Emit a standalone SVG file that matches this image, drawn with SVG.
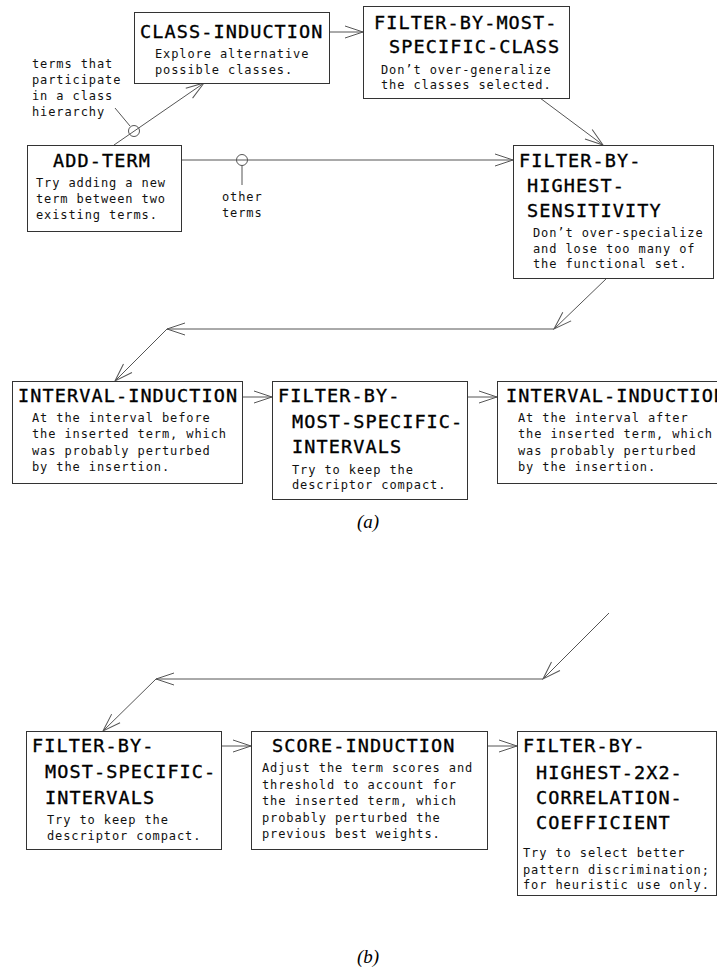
<svg xmlns="http://www.w3.org/2000/svg" width="717" height="972" viewBox="0 0 717 972">
<style>
.box { fill: #fff; stroke: #333; stroke-width: 1; }
.t { font-family: "DejaVu Sans Mono", monospace; font-size: 18.5px; letter-spacing: 1.1px; fill: #000; stroke: #000; stroke-width: 0.35; }
.d { font-family: "DejaVu Sans Mono", monospace; font-size: 12px; letter-spacing: 0.9px; fill: #111; }
.cap { font-family: "Liberation Serif", serif; font-style: italic; font-size: 19px; text-anchor: middle; fill: #000; }
.c { stroke: #555; stroke-width: 1; fill: none; }
.cm { marker-end: url(#arr); }
</style>
<defs>
<marker id="arr" markerUnits="userSpaceOnUse" markerWidth="1" markerHeight="1" refX="0" refY="0" orient="auto" overflow="visible">
<path d="M-18,-6 L0,0 L-18,6" fill="none" stroke="#555" stroke-width="1"/>
</marker>
</defs>
<rect width="717" height="972" fill="#fff"/>

<g id="connectors">
<line class="c cm" x1="114" y1="145" x2="204" y2="83"/>
<circle class="c" cx="134" cy="131" r="5.5" fill="#fff"/>
<line class="c" x1="115" y1="108" x2="130" y2="126"/>
<line class="c cm" x1="329" y1="32" x2="363" y2="32"/>
<line class="c cm" x1="540" y1="98" x2="603" y2="145"/>
<line class="c cm" x1="181" y1="160" x2="513" y2="160"/>
<circle class="c" cx="242" cy="160" r="5.5" fill="#fff"/>
<line class="c" x1="242" y1="165.5" x2="242" y2="185"/>
<line class="c cm" x1="607" y1="278" x2="554" y2="329"/>
<line class="c cm" x1="554" y1="329" x2="167" y2="329"/>
<line class="c cm" x1="167" y1="329" x2="115" y2="381"/>
<line class="c cm" x1="242" y1="397" x2="272" y2="397"/>
<line class="c cm" x1="467" y1="397" x2="497" y2="397"/>
<line class="c cm" x1="609" y1="613" x2="543" y2="679"/>
<line class="c cm" x1="543" y1="679" x2="156" y2="679"/>
<line class="c cm" x1="156" y1="679" x2="103" y2="731"/>
<line class="c cm" x1="221" y1="746" x2="251" y2="746"/>
<line class="c cm" x1="487" y1="746" x2="517" y2="746"/>
</g>

<g id="label-class-hierarchy">
<text class="d" x="32" y="68">terms that</text>
<text class="d" x="32" y="84">participate</text>
<text class="d" x="32" y="100">in a class</text>
<text class="d" x="32" y="116">hierarchy</text>
</g>
<g id="label-other-terms">
<text class="d" x="222" y="201">other</text>
<text class="d" x="222" y="217">terms</text>
</g>

<g id="class-induction">
<rect class="box" x="134.5" y="12.5" width="195" height="71"/>
<text class="t" x="140" y="38">CLASS-INDUCTION</text>
<text class="d" x="155" y="58">Explore alternative</text>
<text class="d" x="155" y="74">possible classes.</text>
</g>

<g id="filter-most-specific-class">
<rect class="box" x="363.5" y="6.5" width="206" height="92"/>
<text class="t" x="374" y="29">FILTER-BY-MOST-</text>
<text class="t" x="389" y="53">SPECIFIC-CLASS</text>
<text class="d" x="381" y="74">Don’t over-generalize</text>
<text class="d" x="381" y="89">the classes selected.</text>
</g>

<g id="add-term">
<rect class="box" x="27.5" y="145.5" width="154" height="86"/>
<text class="t" x="53" y="167">ADD-TERM</text>
<text class="d" x="36" y="187">Try adding a new</text>
<text class="d" x="36" y="203">term between two</text>
<text class="d" x="36" y="219">existing terms.</text>
</g>

<g id="filter-highest-sensitivity">
<rect class="box" x="513.5" y="145.5" width="200" height="133"/>
<text class="t" x="519" y="167">FILTER-BY-</text>
<text class="t" x="527" y="192">HIGHEST-</text>
<text class="t" x="527" y="217">SENSITIVITY</text>
<text class="d" x="533" y="237">Don’t over-specialize</text>
<text class="d" x="533" y="253">and lose too many of</text>
<text class="d" x="533" y="268">the functional set.</text>
</g>

<g id="interval-induction-before">
<rect class="box" x="12.5" y="381.5" width="230" height="102"/>
<text class="t" x="18" y="402">INTERVAL-INDUCTION</text>
<text class="d" x="32" y="422">At the interval before</text>
<text class="d" x="32" y="438">the inserted term, which</text>
<text class="d" x="32" y="455">was probably perturbed</text>
<text class="d" x="32" y="471">by the insertion.</text>
</g>

<g id="filter-most-specific-intervals-a">
<rect class="box" x="272.5" y="381.5" width="195" height="118"/>
<text class="t" x="278" y="402">FILTER-BY-</text>
<text class="t" x="292" y="428">MOST-SPECIFIC-</text>
<text class="t" x="292" y="453">INTERVALS</text>
<text class="d" x="292" y="474">Try to keep the</text>
<text class="d" x="292" y="489">descriptor compact.</text>
</g>

<g id="interval-induction-after">
<rect class="box" x="497.5" y="381.5" width="240" height="102"/>
<text class="t" x="506" y="402">INTERVAL-INDUCTION</text>
<text class="d" x="518" y="422">At the interval after</text>
<text class="d" x="518" y="438">the inserted term, which</text>
<text class="d" x="518" y="455">was probably perturbed</text>
<text class="d" x="518" y="471">by the insertion.</text>
</g>

<text class="cap" x="368" y="528">(a)</text>

<g id="filter-most-specific-intervals-b">
<rect class="box" x="26.5" y="731.5" width="195" height="118"/>
<text class="t" x="32" y="752">FILTER-BY-</text>
<text class="t" x="45" y="778">MOST-SPECIFIC-</text>
<text class="t" x="45" y="804">INTERVALS</text>
<text class="d" x="47" y="824">Try to keep the</text>
<text class="d" x="47" y="840">descriptor compact.</text>
</g>

<g id="score-induction">
<rect class="box" x="251.5" y="731.5" width="236" height="118"/>
<text class="t" x="272" y="752">SCORE-INDUCTION</text>
<text class="d" x="262" y="772">Adjust the term scores and</text>
<text class="d" x="262" y="789">threshold to account for</text>
<text class="d" x="262" y="805">the inserted term, which</text>
<text class="d" x="262" y="822">probably perturbed the</text>
<text class="d" x="262" y="838">previous best weights.</text>
</g>

<g id="filter-highest-2x2">
<rect class="box" x="517.5" y="731.5" width="199" height="164"/>
<text class="t" x="523" y="752">FILTER-BY-</text>
<text class="t" x="536" y="779">HIGHEST-2X2-</text>
<text class="t" x="536" y="804">CORRELATION-</text>
<text class="t" x="536" y="829">COEFFICIENT</text>
<text class="d" x="523" y="857">Try to select better</text>
<text class="d" x="523" y="874">pattern discrimination;</text>
<text class="d" x="523" y="889">for heuristic use only.</text>
</g>

<text class="cap" x="368" y="963">(b)</text>
</svg>
